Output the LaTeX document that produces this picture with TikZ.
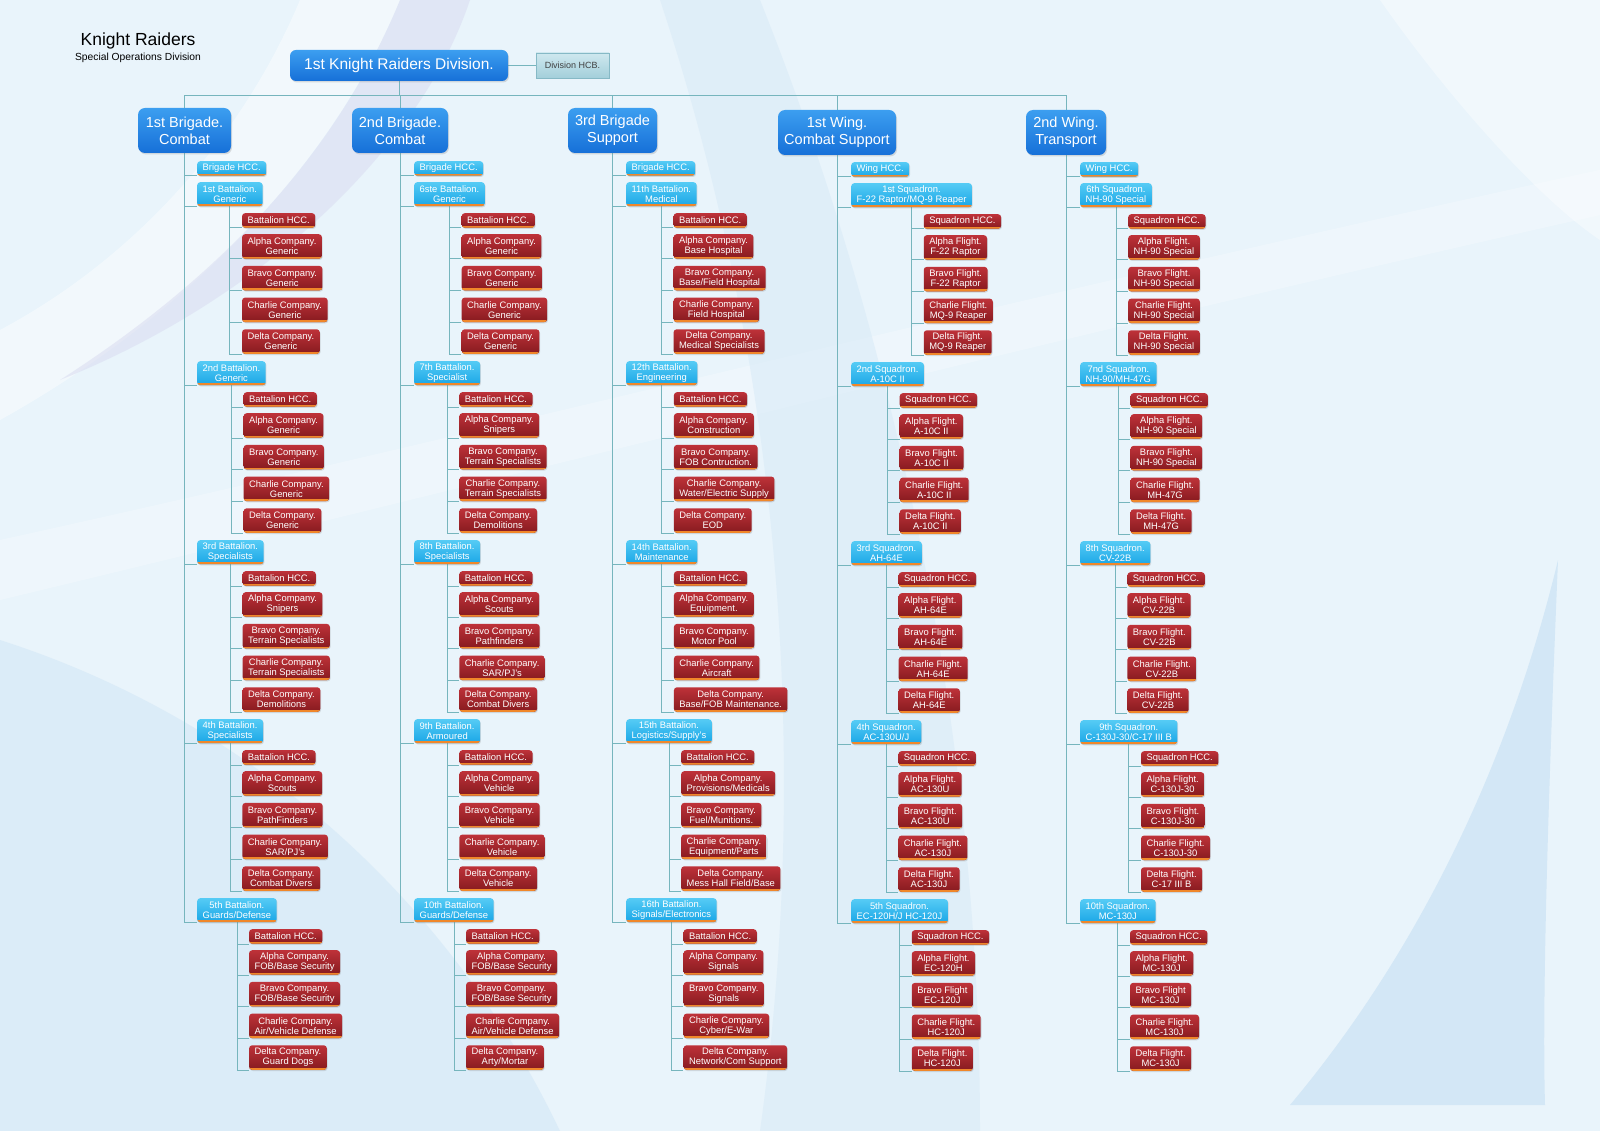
\documentclass[tikz,border=0pt]{standalone}
\usepackage{fontspec}
\setmainfont{Liberation Sans}
\usetikzlibrary{shadows,calc}
\pgfdeclarelayer{bg}\pgfdeclarelayer{lines}
\pgfsetlayers{bg,lines,main}
\definecolor{bgc}{HTML}{E9F4FB}
\definecolor{swA}{HTML}{D3E7F6}
\definecolor{lav}{HTML}{D9DCF1}
\definecolor{blueT}{HTML}{3C9EF0}
\definecolor{blueB}{HTML}{1670D8}
\definecolor{cyT}{HTML}{55CBF5}
\definecolor{cyB}{HTML}{1AA6E6}
\definecolor{rdT}{HTML}{BE3239}
\definecolor{rdB}{HTML}{861A1F}
\definecolor{orC}{HTML}{F0872A}
\definecolor{lnC}{HTML}{76B5BD}
\definecolor{hcbT}{HTML}{CFE8EF}
\definecolor{hcbB}{HTML}{A3CFDA}
\definecolor{hcbD}{HTML}{86B9C6}
\tikzset{
  conn/.style={draw=lnC, line width=0.8pt},
  boxbase/.style={font=\fontsize{9.4}{10}\selectfont, text=white, align=center,
    inner xsep=5.5pt, inner ysep=1pt, rounded corners=3pt,
    drop shadow={shadow xshift=0.8pt, shadow yshift=-1.2pt, opacity=0.25}},
  uline/.style={path picture={\draw[orC, line width=3.8pt]
    (path picture bounding box.south west) -- (path picture bounding box.south east);}},
  cy/.style={boxbase, uline, top color=cyT, bottom color=cyB, minimum height=24pt},
  rd/.style={boxbase, uline, top color=rdT, bottom color=rdB},
  brig/.style={rounded corners=7pt, top color=blueT, bottom color=blueB, text=white,
    align=center, font=\fontsize{14.5}{17}\selectfont, minimum height=45pt, inner sep=2pt,
    drop shadow={shadow xshift=1pt, shadow yshift=-1.5pt, opacity=0.25}},
  divbox/.style={brig, rounded corners=6pt, font=\fontsize{15.5}{18}\selectfont,
    minimum width=218pt, minimum height=31pt},
  hcb/.style={top color=hcbT, bottom color=hcbB, draw=hcbD, line width=0.5pt,
    text=black!75, font=\fontsize{9}{10}\selectfont, minimum width=73pt, minimum height=25pt,
    drop shadow={shadow xshift=0.8pt, shadow yshift=-1.2pt, opacity=0.2}},
}
\newcommand\unitgrp[6]{%
  \node[cy, anchor=north west] (#2) at (#3,#4) {#5};
  \begin{pgfonlayer}{lines}\draw[conn] (#1.south) |- (#2.south west);\end{pgfonlayer}
  \path (#2.south) ++(12,0) coordinate (tx);
  \foreach \txt [count=\nn] in {#6} {%
    \pgfmathsetmacro\yy{#4 + (\nn==1 ? 31 : 52+31.7*(\nn-2))}%
    \pgfmathsetmacro\hh{\nn==1 ? 14.5 : 24.5}%
    \path (0,\yy) coordinate (ty);
    \node[rd, anchor=north west, minimum height=\hh pt] (#2-\nn) at (tx |- ty) {\txt};
    \begin{pgfonlayer}{lines}\draw[conn] (#2.south) |- (#2-\nn.south west);\end{pgfonlayer}
  }%
}
\begin{document}
\begin{tikzpicture}[x=1pt,y=-1pt]
\useasboundingbox (0,0) rectangle (1600,1131);
\begin{pgfonlayer}{bg}
\fill[bgc] (0,0) rectangle (1600,1131);
\fill[white,opacity=.45] (300,0) .. controls (250,120) and (150,250) .. (0,330) -- (0,420) .. controls (180,320) and (330,170) .. (400,0) -- cycle;
\fill[lav,opacity=.55] (400,0) .. controls (330,170) and (200,290) .. (60,380) .. controls (260,300) and (420,150) .. (470,0) -- cycle;
\fill[white,opacity=.25] (0,540) .. controls (500,430) and (1000,300) .. (1600,170) -- (1600,215) .. controls (1000,350) and (500,480) .. (0,600) -- cycle;
\fill[swA,opacity=.6] (0,640) .. controls (250,720) and (450,900) .. (560,1131) -- (0,1131) -- cycle;
\fill[swA,opacity=.45] (660,0) .. controls (760,300) and (820,700) .. (760,1131) -- (980,1131) .. controls (980,700) and (880,300) .. (760,0) -- cycle;
\fill[swA] (1290,1105) .. controls (1420,950) and (1510,760) .. (1558,560) .. controls (1548,800) and (1542,1000) .. (1545,1105) -- cycle;
\fill[white,opacity=.4] (1380,0) .. controls (1450,100) and (1540,200) .. (1600,240) -- (1600,0) -- cycle;
\end{pgfonlayer}

% title
\node (t1) at (138,41) {\fontsize{17.5}{20}\selectfont Knight Raiders};
\node (t2) at (138,58) {\fontsize{10.3}{12}\selectfont Special Operations Division};

% division
\node[divbox] (div) at (399,65.5) {1st Knight Raiders Division.};
\node[hcb] (hcb) at (572.5,65.5) {Division HCB.};
\coordinate (bus) at (0,95);

% brigades
\node[brig, minimum width=93pt] (b1) at (184.5,130.5) {1st Brigade.\\Combat};
\node[brig, minimum width=96pt] (b2) at (400,130.5) {2nd Brigade.\\Combat};
\node[brig, minimum width=89pt] (b3) at (612.5,130.5) {3rd Brigade\\Support};
\node[brig, minimum width=118pt] (b4) at (837,132.5) {1st Wing.\\Combat Support};
\node[brig, minimum width=80pt] (b5) at (1066,132.5) {2nd Wing.\\Transport};

\begin{pgfonlayer}{lines}
\draw[conn] (div.east) -- (hcb.west);
\draw[conn] (div.south) -- (div.south |- bus);
\draw[conn] (b1.north) -- (b1.north |- bus) -- (b5.north |- bus) -- (b5.north);
\foreach \b in {b2,b3,b4} \draw[conn] (\b.north) -- (\b.north |- bus);
\end{pgfonlayer}

% HCC of brigades / wings
\node[cy, minimum height=14.5pt, anchor=north west] (b1h) at (197,161) {Brigade HCC.};
\node[cy, minimum height=14.5pt, anchor=north west] (b2h) at (414,161) {Brigade HCC.};
\node[cy, minimum height=14.5pt, anchor=north west] (b3h) at (626,161) {Brigade HCC.};
\node[cy, minimum height=14.5pt, anchor=north west] (b4h) at (851,162) {Wing HCC.};
\node[cy, minimum height=14.5pt, anchor=north west] (b5h) at (1080,162) {Wing HCC.};
\begin{pgfonlayer}{lines}
\foreach \b in {b1,b2,b3,b4,b5} \draw[conn] (\b.south) |- (\b h.south west);
\end{pgfonlayer}

% ---- column 1
\unitgrp{b1}{b1a}{197}{182}{1st Battalion.\\Generic}{{Battalion HCC.},{Alpha Company.\\Generic},{Bravo Company.\\Generic},{Charlie Company.\\Generic},{Delta Company.\\Generic}}
\unitgrp{b1}{b1b}{197}{361}{2nd Battalion.\\Generic}{{Battalion HCC.},{Alpha Company.\\Generic},{Bravo Company.\\Generic},{Charlie Company.\\Generic},{Delta Company.\\Generic}}
\unitgrp{b1}{b1c}{197}{540}{3rd Battalion.\\Specialists}{{Battalion HCC.},{Alpha Company.\\Snipers},{Bravo Company.\\Terrain Specialists},{Charlie Company.\\Terrain Specialists},{Delta Company.\\Demolitions}}
\unitgrp{b1}{b1d}{197}{719}{4th Battalion.\\Specialists}{{Battalion HCC.},{Alpha Company.\\Scouts},{Bravo Company.\\PathFinders},{Charlie Company.\\SAR/PJ's},{Delta Company.\\Combat Divers}}
\unitgrp{b1}{b1e}{197}{898}{5th Battalion.\\Guards/Defense}{{Battalion HCC.},{Alpha Company.\\FOB/Base Security},{Bravo Company.\\FOB/Base Security},{Charlie Company.\\Air/Vehicle Defense},{Delta Company.\\Guard Dogs}}

% ---- column 2
\unitgrp{b2}{b2a}{414}{182}{6ste Battalion.\\Generic}{{Battalion HCC.},{Alpha Company.\\Generic},{Bravo Company.\\Generic},{Charlie Company.\\Generic},{Delta Company.\\Generic}}
\unitgrp{b2}{b2b}{414}{361}{7th Battalion.\\Specialist}{{Battalion HCC.},{Alpha Company.\\Snipers},{Bravo Company.\\Terrain Specialists},{Charlie Company.\\Terrain Specialists},{Delta Company.\\Demolitions}}
\unitgrp{b2}{b2c}{414}{540}{8th Battalion.\\Specialists}{{Battalion HCC.},{Alpha Company.\\Scouts},{Bravo Company.\\Pathfinders},{Charlie Company.\\SAR/PJ's},{Delta Company.\\Combat Divers}}
\unitgrp{b2}{b2d}{414}{719}{9th Battalion.\\Armoured}{{Battalion HCC.},{Alpha Company.\\Vehicle},{Bravo Company.\\Vehicle},{Charlie Company.\\Vehicle},{Delta Company.\\Vehicle}}
\unitgrp{b2}{b2e}{414}{898}{10th Battalion.\\Guards/Defense}{{Battalion HCC.},{Alpha Company.\\FOB/Base Security},{Bravo Company.\\FOB/Base Security},{Charlie Company.\\Air/Vehicle Defense},{Delta Company.\\Arty/Mortar}}

% ---- column 3
\unitgrp{b3}{b3a}{626}{182}{11th Battalion.\\Medical}{{Battalion HCC.},{Alpha Company.\\Base Hospital},{Bravo Company.\\Base/Field Hospital},{Charlie Company.\\Field Hospital},{Delta Company.\\Medical Specialists}}
\unitgrp{b3}{b3b}{626}{361}{12th Battalion.\\Engineering}{{Battalion HCC.},{Alpha Company.\\Construction},{Bravo Company.\\FOB Contruction.},{Charlie Company.\\Water/Electric Supply},{Delta Company.\\EOD}}
\unitgrp{b3}{b3c}{626}{540}{14th Battalion.\\Maintenance}{{Battalion HCC.},{Alpha Company.\\Equipment.},{Bravo Company.\\Motor Pool},{Charlie Company.\\Aircraft},{Delta Company.\\Base/FOB Maintenance.}}
\unitgrp{b3}{b3d}{626}{719}{15th Battalion.\\Logistics/Supply's}{{Battalion HCC.},{Alpha Company.\\Provisions/Medicals},{Bravo Company.\\Fuel/Munitions.},{Charlie Company.\\Equipment/Parts},{Delta Company.\\Mess Hall Field/Base}}
\unitgrp{b3}{b3e}{626}{898}{16th Battalion.\\Signals/Electronics}{{Battalion HCC.},{Alpha Company.\\Signals},{Bravo Company.\\Signals},{Charlie Company.\\Cyber/E-War},{Delta Company.\\Network/Com Support}}

% ---- column 4
\unitgrp{b4}{b4a}{851}{183}{1st Squadron.\\F-22 Raptor/MQ-9 Reaper}{{Squadron HCC.},{Alpha Flight.\\F-22 Raptor},{Bravo Flight.\\F-22 Raptor},{Charlie Flight.\\MQ-9 Reaper},{Delta Flight.\\MQ-9 Reaper}}
\unitgrp{b4}{b4b}{851}{362}{2nd Squadron.\\A-10C II}{{Squadron HCC.},{Alpha Flight.\\A-10C II},{Bravo Flight.\\A-10C II},{Charlie Flight.\\A-10C II},{Delta Flight.\\A-10C II}}
\unitgrp{b4}{b4c}{851}{541}{3rd Squadron.\\AH-64E}{{Squadron HCC.},{Alpha Flight.\\AH-64E},{Bravo Flight.\\AH-64E},{Charlie Flight.\\AH-64E},{Delta Flight.\\AH-64E}}
\unitgrp{b4}{b4d}{851}{720}{4th Squadron.\\AC-130U/J}{{Squadron HCC.},{Alpha Flight.\\AC-130U},{Bravo Flight.\\AC-130U},{Charlie Flight.\\AC-130J},{Delta Flight.\\AC-130J}}
\unitgrp{b4}{b4e}{851}{899}{5th Squadron.\\EC-120H/J HC-120J}{{Squadron HCC.},{Alpha Flight.\\EC-120H},{Bravo Flight\\EC-120J},{Charlie Flight.\\HC-120J},{Delta Flight.\\HC-120J}}

% ---- column 5
\unitgrp{b5}{b5a}{1080}{183}{6th Squadron.\\NH-90 Special}{{Squadron HCC.},{Alpha Flight.\\NH-90 Special},{Bravo Flight.\\NH-90 Special},{Charlie Flight.\\NH-90 Special},{Delta Flight.\\NH-90 Special}}
\unitgrp{b5}{b5b}{1080}{362}{7nd Squadron.\\NH-90/MH-47G}{{Squadron HCC.},{Alpha Flight.\\NH-90 Special},{Bravo Flight.\\NH-90 Special},{Charlie Flight.\\MH-47G},{Delta Flight.\\MH-47G}}
\unitgrp{b5}{b5c}{1080}{541}{8th Squadron.\\CV-22B}{{Squadron HCC.},{Alpha Flight.\\CV-22B},{Bravo Flight.\\CV-22B},{Charlie Flight.\\CV-22B},{Delta Flight.\\CV-22B}}
\unitgrp{b5}{b5d}{1080}{720}{9th Squadron.\\C-130J-30/C-17 III B}{{Squadron HCC.},{Alpha Flight.\\C-130J-30},{Bravo Flight.\\C-130J-30},{Charlie Flight.\\C-130J-30},{Delta Flight.\\C-17 III B}}
\unitgrp{b5}{b5e}{1080}{899}{10th Squadron.\\MC-130J}{{Squadron HCC.},{Alpha Flight.\\MC-130J},{Bravo Flight\\MC-130J},{Charlie Flight.\\MC-130J},{Delta Flight.\\MC-130J}}
\end{tikzpicture}
\end{document}
